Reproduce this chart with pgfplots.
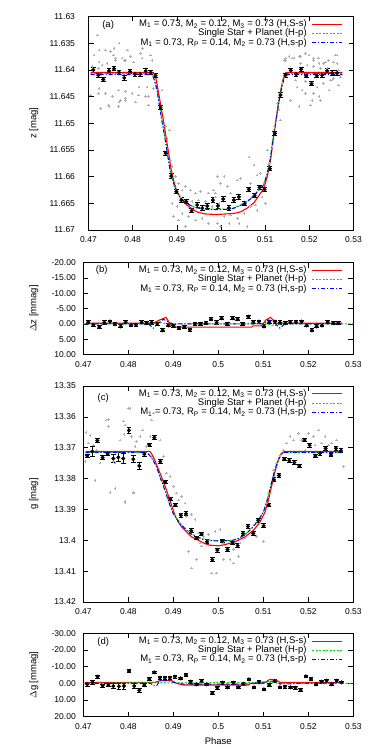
\documentclass[border=0pt]{standalone}
\usepackage{pgfplots}
\pgfplotsset{compat=1.18}
\usepackage{fontspec}
\setmainfont{Liberation Sans}
\definecolor{ptgray}{RGB}{175,175,175}
\definecolor{mred}{RGB}{255,0,0}
\definecolor{mgreen}{RGB}{0,220,0}
\definecolor{mblue}{RGB}{0,0,255}
\pgfplotsset{
  every axis/.append style={
    scale only axis, anchor=north west,
    xmin=0.47, xmax=0.53,
    xtick={0.47,0.48,0.49,0.5,0.51,0.52,0.53},
    scaled x ticks=false, scaled y ticks=false,
    /pgf/number format/assume math mode=true,
    tick label style={font=\fontsize{8.5}{10}\selectfont},
    xticklabel style={/pgf/number format/fixed,/pgf/number format/precision=2,yshift=-3.5pt},
    label style={font=\fontsize{9.5}{11}\selectfont},
    major tick length=5pt,
    tick style={black,line width=0.5pt},
    axis line style={line width=0.7pt},
    y dir=reverse,
    legend cell align=right,
    legend plot pos=right,
    legend style={at={(1,1)},anchor=north east,xshift=-10.5pt,yshift=-3pt,draw=none,fill=none,inner sep=0pt,
      font=\fontsize{9.5}{11}\selectfont,column sep=5pt,row sep=0pt,
      nodes={inner sep=0pt,text height=6.8pt,text depth=2.5pt}},
    legend image code/.code={\draw[#1] (0pt,0pt) -- (30pt,0pt);},
  },
  graypts/.style={only marks,mark=+,mark size=1.3pt,color=ptgray,mark options={line width=0.6pt}},
  binpts/.style={only marks,mark=*,mark size=1.8pt,color=black,
     error bars/y dir=both,error bars/y explicit,error bars/error bar style={line width=1pt,black},
     error bars/error mark options={rotate=90,mark size=2.4pt,line width=1pt,black}},
  redl/.style={no marks,color=mred,line width=1.1pt},
  greenl/.style={no marks,color=mgreen,line width=1pt,dash pattern=on 2pt off 1.5pt},
  bluel/.style={no marks,color=mblue,line width=1pt,dash pattern=on 4pt off 2pt on 1pt off 2pt},
}
\newcommand{\LA}{M\textsubscript{1} = 0.73, M\textsubscript{2} = 0.12, M\textsubscript{3} = 0.73 (H,S-s)}
\newcommand{\LB}{Single Star + Planet (H-p)}
\newcommand{\LC}{M\textsubscript{1} = 0.73, R\textsubscript{P} = 0.14, M\textsubscript{2} = 0.73 (H,s-p)}
\begin{document}
\begin{tikzpicture}[x=1pt,y=1pt]
\useasboundingbox (0,0) rectangle (377,-751);
% ---------------- panel (a)
\begin{axis}[at={(88.5pt,-16.5pt)},width=265pt,height=213.5pt,
  ymin=11.63,ymax=11.67,ytick={11.63,11.635,11.64,11.645,11.65,11.655,11.66,11.665,11.67},
  yticklabel style={/pgf/number format/fixed,/pgf/number format/precision=3,xshift=-10pt},
  ylabel={z [mag]},ylabel style={at={(axis description cs:-0.206,0.5)},anchor=center}]
\addplot[forget plot,graypts] table {
0.47494 11.6366
0.47569 11.6372
0.47607 11.6382
0.47758 11.6378
0.47833 11.6382
0.47946 11.6375
0.48022 11.6385
0.48172 11.6369
0.48210 11.6378
0.48399 11.6372
0.48436 11.6382
0.47305 11.6391
0.47418 11.6388
0.47079 11.6394
0.47230 11.6397
0.47042 11.6447
0.47230 11.6444
0.47381 11.6444
0.47682 11.6438
0.47833 11.6441
0.47984 11.6444
0.48135 11.6447
0.47833 11.6457
0.47720 11.6457
0.48059 11.6460
0.48361 11.6450
0.47456 11.6466
0.47268 11.6472
0.47682 11.6469
0.48361 11.6466
0.48323 11.6432
0.48474 11.6435
0.48663 11.6438
0.48700 11.6488
0.48738 11.6506
0.48776 11.6531
0.48829 11.6513
0.48851 11.6569
0.48889 11.6581
0.48964 11.6600
0.49040 11.6613
0.49115 11.6625
0.49077 11.6638
0.49191 11.6619
0.49304 11.6625
0.49417 11.6631
0.49530 11.6628
0.49719 11.6631
0.49832 11.6625
0.49870 11.6638
0.49002 11.6656
0.49115 11.6669
0.49266 11.6675
0.49417 11.6681
0.49568 11.6678
0.49719 11.6688
0.49040 11.6681
0.49191 11.6694
0.48889 11.6650
0.48927 11.6675
0.49492 11.6644
0.49643 11.6647
0.49794 11.6656
0.49341 11.6647
0.49914 11.6600
0.50065 11.6600
0.49990 11.6613
0.50141 11.6619
0.49877 11.6631
0.49952 11.6650
0.50216 11.6631
0.50367 11.6606
0.50442 11.6603
0.50631 11.6563
0.50744 11.6578
0.50819 11.6597
0.50895 11.6594
0.50668 11.6613
0.50932 11.6638
0.51008 11.6650
0.50782 11.6653
0.50668 11.6656
0.50518 11.6669
0.50367 11.6678
0.50216 11.6672
0.50065 11.6675
0.49990 11.6694
0.50178 11.6688
0.50405 11.6688
0.50593 11.6694
0.50819 11.6663
0.49914 11.6688
0.51046 11.6550
0.51083 11.6575
0.51159 11.6544
0.51272 11.6463
0.51309 11.6475
0.51347 11.6494
0.51196 11.6506
0.51385 11.6425
0.51422 11.6382
0.51460 11.6378
0.51536 11.6375
0.51649 11.6378
0.51799 11.6375
0.51988 11.6372
0.52101 11.6382
0.52214 11.6378
0.52327 11.6388
0.52440 11.6382
0.52553 11.6385
0.52629 11.6372
0.52667 11.6400
0.52704 11.6413
0.51799 11.6388
0.51950 11.6391
0.52101 11.6394
0.52252 11.6397
0.52403 11.6397
0.51573 11.6457
0.51724 11.6432
0.51837 11.6438
0.52026 11.6466
0.52101 11.6444
0.52177 11.6432
0.52252 11.6457
0.52327 11.6425
0.52478 11.6419
0.52553 11.6416
0.51686 11.6419
0.51913 11.6422
0.47200 11.6335
0.47237 11.6363
0.47124 11.6372
0.47388 11.6363
0.47577 11.6360
0.47690 11.6350
0.47878 11.6363
0.48218 11.6360
0.47803 11.6382
0.47614 11.6378
0.47237 11.6385
0.47049 11.6447
0.47237 11.6435
0.47539 11.6450
0.47841 11.6453
0.47464 11.6469
0.48142 11.6432
0.48293 11.6450
0.47690 11.6460
0.51460 11.6382
0.51611 11.6378
0.51762 11.6375
0.51913 11.6369
0.52101 11.6378
0.52215 11.6388
0.52365 11.6385
0.52591 11.6372
0.52629 11.6388
0.52516 11.6419
0.52441 11.6438
0.52215 11.6450
0.52064 11.6457
0.51913 11.6444
0.51762 11.6469
0.52667 11.6428
};
\addplot[forget plot,binpts] table[x index=0,y index=1,y error index=2] {
0.47109 11.6400 0.0004
0.47222 11.6410 0.0004
0.47335 11.6418 0.0004
0.47464 11.6402 0.0004
0.47577 11.6398 0.0004
0.47690 11.6405 0.0004
0.47810 11.6415 0.0004
0.47939 11.6403 0.0004
0.48052 11.6408 0.0004
0.48172 11.6408 0.0004
0.48294 11.6402 0.0004
0.48407 11.6405 0.0004
0.48520 11.6411 0.0004
0.48633 11.6471 0.0004
0.48747 11.6556 0.0004
0.48873 11.6599 0.0004
0.48990 11.6628 0.0004
0.49100 11.6644 0.0004
0.49213 11.6647 0.0004
0.49335 11.6664 0.0004
0.49462 11.6653 0.0004
0.49575 11.6659 0.0004
0.49688 11.6655 0.0004
0.49817 11.6644 0.0004
0.49930 11.6655 0.0004
0.50050 11.6642 0.0004
0.50179 11.6659 0.0004
0.50292 11.6644 0.0004
0.50405 11.6638 0.0004
0.50534 11.6651 0.0004
0.50631 11.6624 0.0004
0.50760 11.6636 0.0004
0.50873 11.6620 0.0004
0.50986 11.6624 0.0004
0.51106 11.6585 0.0004
0.51219 11.6519 0.0004
0.51347 11.6447 0.0004
0.51460 11.6410 0.0004
0.51580 11.6401 0.0004
0.51700 11.6408 0.0004
0.51815 11.6399 0.0004
0.51930 11.6411 0.0004
0.52050 11.6426 0.0004
0.52170 11.6411 0.0004
0.52290 11.6410 0.0004
0.52403 11.6402 0.0004
0.52516 11.6406 0.0004
0.52629 11.6406 0.0004
};
\addplot[redl] table {
0.4705 11.6405
0.4847 11.6405
0.48527 11.6416
0.48588 11.6444
0.48648 11.6472
0.48701 11.6497
0.48754 11.6525
0.48814 11.6556
0.48874 11.6588
0.48935 11.6610
0.49002 11.6628
0.49115 11.6644
0.49266 11.6656
0.49455 11.6666
0.49643 11.6670
0.49907 11.6671
0.50292 11.6669
0.50443 11.6666
0.50594 11.6659
0.50745 11.6649
0.50896 11.6631
0.50971 11.6622
0.51047 11.6600
0.51122 11.6569
0.51183 11.6531
0.51236 11.6500
0.51289 11.6469
0.51349 11.6441
0.51410 11.6416
0.51470 11.6405
0.5275 11.6405
};
\addlegendentry{\LA}
\addplot[greenl] table {
0.4705 11.6407
0.48436 11.6407
0.48474 11.6413
0.48550 11.6435
0.48602 11.6463
0.48663 11.6494
0.48723 11.6522
0.48783 11.6553
0.48844 11.6585
0.48904 11.6606
0.48980 11.6625
0.49077 11.6638
0.49228 11.6650
0.49417 11.6658
0.49643 11.6661
0.49907 11.6661
0.50216 11.6661
0.50367 11.6656
0.50518 11.6650
0.50668 11.6641
0.50819 11.6628
0.50955 11.6616
0.51046 11.6594
0.51121 11.6563
0.51181 11.6526
0.51242 11.6494
0.51302 11.6463
0.51362 11.6435
0.51422 11.6416
0.51483 11.6407
0.5275 11.6407
};
\addlegendentry{\LB}
\addplot[bluel] table {
0.4705 11.6409
0.48420 11.6409
0.48474 11.6415
0.48550 11.6437
0.48602 11.6465
0.48663 11.6496
0.48723 11.6524
0.48783 11.6555
0.48844 11.6587
0.48904 11.6607
0.48980 11.6626
0.49077 11.6639
0.49228 11.6651
0.49417 11.6658
0.49643 11.6661
0.49907 11.6662
0.50216 11.6661
0.50367 11.6657
0.50518 11.6651
0.50668 11.6642
0.50819 11.6629
0.50955 11.6617
0.51046 11.6596
0.51121 11.6565
0.51181 11.6528
0.51242 11.6496
0.51302 11.6465
0.51362 11.6437
0.51422 11.6418
0.51483 11.6409
0.5275 11.6409
};
\addlegendentry{\LC}
\node[font=\fontsize{9.5}{11}\selectfont] at (axis description cs:0.074,0.96) {(a)};
\end{axis}
% ---------------- panel (b)
\begin{axis}[at={(83.3pt,-262.5pt)},width=270pt,height=92pt,
  ymin=-20,ymax=10,ytick={-20,-15,-10,-5,0,5,10},
  yticklabel style={/pgf/number format/fixed,/pgf/number format/fixed zerofill,/pgf/number format/precision=2,xshift=-4pt},
  ylabel={$\Delta$z [mmag]},ylabel style={at={(axis description cs:-0.183,0.5)},anchor=center}]
\addplot[forget plot,binpts] table[x index=0,y index=1,y error index=2] {
0.47111 -0.53 0.5
0.47222 0.32 0.5
0.47356 1.06 0.5
0.47467 -0.43 0.5
0.47593 -0.74 0.5
0.47704 0.00 0.5
0.47830 0.85 0.5
0.47941 -0.53 0.5
0.48059 0.43 0.5
0.48170 0.32 0.5
0.48296 -0.53 0.5
0.48407 -0.21 0.5
0.48519 -0.43 0.5
0.48644 0.00 0.5
0.48763 2.13 0.5
0.48889 0.53 0.5
0.49000 0.64 0.5
0.49126 1.38 0.5
0.49244 1.06 0.5
0.49370 1.91 0.5
0.49481 0.00 0.5
0.49607 0.00 0.5
0.49726 -0.21 0.5
0.49837 -1.49 0.5
0.49963 -0.43 0.5
0.50074 -1.81 0.5
0.50200 0.11 0.5
0.50319 -1.81 0.5
0.50430 -1.49 0.5
0.50541 0.11 0.5
0.50667 -2.34 0.5
0.50778 -0.53 0.5
0.50904 -0.74 0.5
0.51015 0.85 0.5
0.51133 -0.53 0.5
0.51259 -0.74 0.5
0.51370 -0.43 0.5
0.51489 -0.21 0.5
0.51600 -0.53 0.5
0.51726 -0.53 0.5
0.51852 -0.74 0.5
0.51963 0.53 0.5
0.52081 2.13 0.5
0.52185 0.85 0.5
0.52304 0.53 0.5
0.52430 -0.53 0.5
0.52556 -0.21 0.5
0.52667 -0.21 0.5
};
\addplot[redl] table {
0.4705 -0.2
0.4855 -0.2
0.48704 -1.3
0.48837 -2.1
0.48941 0.3
0.49074 1.06
0.50741 1.06
0.50778 0.64
0.50963 0.64
0.51059 -1.3
0.51163 -2.1
0.51281 -0.2
0.5275 -0.2
};
\addlegendentry{\LA}
\addplot[greenl] table {
0.47 0
0.4855 0
0.4868 -0.6
0.4885 0
0.5105 0
0.5125 0.6
0.5140 0
0.53 0
};
\addlegendentry{\LB}
\addplot[bluel] table {
0.4705 0
0.48444 0
0.48556 1.4
0.48667 -0.2
0.48778 -1.5
0.48911 -0.4
0.4900 0
0.5100 0
0.51111 -1.3
0.51222 -0.7
0.51370 1.4
0.51481 0
0.5275 0
};
\addlegendentry{\LC}
\node[font=\fontsize{9.5}{11}\selectfont] at (axis description cs:0.068,0.918) {(b)};
\end{axis}
% ---------------- panel (c)
\begin{axis}[at={(83.3pt,-386pt)},width=270pt,height=216pt,
  ymin=13.35,ymax=13.42,ytick={13.35,13.36,13.37,13.38,13.39,13.4,13.41,13.42},
  yticklabel style={/pgf/number format/fixed,/pgf/number format/precision=2,xshift=-4pt},
  ylabel={g [mag]},ylabel style={at={(axis description cs:-0.183,0.5)},anchor=center}]
\addplot[forget plot,graypts] table {
0.47037 13.3745
0.47111 13.3685
0.47222 13.3691
0.47296 13.3707
0.47370 13.3750
0.47504 13.3610
0.47556 13.3631
0.47667 13.3745
0.47704 13.3750
0.47815 13.3675
0.47904 13.3658
0.47926 13.3626
0.48000 13.3572
0.48074 13.3664
0.48111 13.3847
0.48148 13.3696
0.48185 13.3680
0.48259 13.3664
0.48319 13.3642
0.48407 13.3696
0.48481 13.3664
0.48519 13.3610
0.48556 13.3588
0.47593 13.3845
0.47926 13.3877
0.48704 13.3675
0.48778 13.3728
0.48852 13.3782
0.48926 13.3793
0.49000 13.3825
0.49074 13.3847
0.49111 13.3869
0.49185 13.3858
0.49259 13.3879
0.49148 13.3917
0.49296 13.3922
0.49407 13.3917
0.49481 13.3933
0.49556 13.3976
0.49593 13.4009
0.49667 13.3987
0.49778 13.3982
0.49926 13.3971
0.50037 13.3966
0.50111 13.4009
0.50185 13.4030
0.50259 13.4063
0.50333 13.4073
0.50444 13.4052
0.50481 13.4009
0.50593 13.3993
0.50704 13.3966
0.50852 13.3987
0.50926 13.3944
0.51000 13.4003
0.51074 13.3879
0.51111 13.3847
0.51222 13.3772
0.51296 13.3750
0.51370 13.3728
0.51444 13.3707
0.51519 13.3685
0.51593 13.3664
0.51667 13.3675
0.51778 13.3653
0.51852 13.3675
0.51926 13.3707
0.52000 13.3653
0.52111 13.3664
0.52148 13.3691
0.52222 13.3642
0.52296 13.3685
0.52370 13.3664
0.52444 13.3691
0.52519 13.3685
0.52630 13.3675
0.52704 13.3707
0.52778 13.3761
0.49407 13.4090
0.49852 13.4106
0.49963 13.4106
0.49519 13.4063
0.49630 13.4019
0.50111 13.4063
0.49333 13.4036
0.50333 13.4030
0.47259 13.3806
0.47593 13.3844
0.47704 13.3833
0.47926 13.3874
0.48111 13.3844
0.47059 13.3651
0.47148 13.3661
0.47556 13.3608
0.48037 13.3573
0.47889 13.3613
};
\addplot[forget plot,binpts] table[x index=0,y index=1,y error index=2] {
0.47089 13.3726 0.0005
0.47200 13.3712 0.0015
0.47311 13.3677 0.0006
0.47430 13.3732 0.0007
0.47541 13.3720 0.0006
0.47667 13.3735 0.0012
0.47778 13.3731 0.0015
0.47889 13.3735 0.0015
0.48015 13.3644 0.0009
0.48111 13.3737 0.0012
0.48244 13.3759 0.0012
0.48356 13.3721 0.0007
0.48467 13.3691 0.0006
0.48578 13.3667 0.0006
0.48711 13.3745 0.0006
0.48822 13.3811 0.0006
0.48933 13.3866 0.0006
0.49044 13.3886 0.0006
0.49170 13.3919 0.0006
0.49281 13.3914 0.0006
0.49400 13.3969 0.0006
0.49519 13.3993 0.0006
0.49630 13.3980 0.0006
0.49748 13.4005 0.0006
0.49867 13.4063 0.0006
0.49978 13.4032 0.0006
0.50089 13.4002 0.0006
0.50207 13.4030 0.0006
0.50319 13.4009 0.0006
0.50430 13.4017 0.0006
0.50548 13.3978 0.0006
0.50659 13.3955 0.0006
0.50778 13.3978 0.0006
0.50889 13.3935 0.0006
0.51007 13.3953 0.0006
0.51119 13.3886 0.0006
0.51237 13.3804 0.0006
0.51348 13.3790 0.0006
0.51467 13.3737 0.0006
0.51578 13.3742 0.0006
0.51689 13.3748 0.0006
0.51800 13.3759 0.0006
0.51919 13.3675 0.0006
0.52030 13.3692 0.0006
0.52156 13.3727 0.0006
0.52259 13.3718 0.0006
0.52385 13.3702 0.0006
0.52504 13.3724 0.0006
0.52615 13.3702 0.0006
0.52726 13.3710 0.0006
};
\addplot[redl] table {
0.4705 13.3712
0.48481 13.3712
0.48519 13.3720
0.48593 13.3742
0.48667 13.3769
0.48741 13.3796
0.48815 13.3823
0.48889 13.3855
0.48963 13.3887
0.49037 13.3919
0.49111 13.3941
0.49185 13.3957
0.49296 13.3973
0.49407 13.3989
0.49556 13.4000
0.49704 13.4011
0.49815 13.4016
0.50000 13.4018
0.50149 13.4014
0.50371 13.4005
0.50594 13.3989
0.50779 13.3968
0.50927 13.3941
0.51038 13.3909
0.51112 13.3871
0.51187 13.3823
0.51246 13.3785
0.51320 13.3747
0.51394 13.3720
0.51468 13.3712
0.5275 13.3712
};
\addlegendentry{\LA}
\addplot[greenl] table {
0.4705 13.3716
0.48420 13.3716
0.48481 13.3724
0.48556 13.3740
0.48630 13.3761
0.48704 13.3794
0.48778 13.3821
0.48852 13.3853
0.48926 13.3885
0.49000 13.3912
0.49074 13.3928
0.49148 13.3944
0.49259 13.3960
0.49370 13.3976
0.49519 13.3988
0.49667 13.3996
0.49852 13.4000
0.50000 13.4001
0.50298 13.4000
0.50446 13.3994
0.50594 13.3981
0.50742 13.3961
0.50890 13.3934
0.51001 13.3908
0.51076 13.3875
0.51150 13.3832
0.51224 13.3789
0.51298 13.3752
0.51372 13.3726
0.51446 13.3716
0.5275 13.3716
};
\addlegendentry{\LB}
\addplot[bluel] table {
0.4705 13.3715
0.48407 13.3715
0.48481 13.3726
0.48556 13.3742
0.48630 13.3763
0.48704 13.3796
0.48778 13.3823
0.48852 13.3855
0.48926 13.3887
0.49000 13.3914
0.49074 13.3930
0.49148 13.3946
0.49259 13.3962
0.49370 13.3978
0.49519 13.3989
0.49667 13.3997
0.49852 13.4001
0.50000 13.4002
0.50298 13.4001
0.50446 13.3995
0.50594 13.3982
0.50742 13.3962
0.50890 13.3935
0.51001 13.3909
0.51076 13.3876
0.51150 13.3833
0.51224 13.3790
0.51298 13.3753
0.51372 13.3726
0.51446 13.3715
0.5275 13.3715
};
\addlegendentry{\LC}
\node[font=\fontsize{9.5}{11}\selectfont] at (axis description cs:0.074,0.946) {(c)};
\end{axis}
% ---------------- panel (d)
\begin{axis}[at={(83.3pt,-633.3pt)},width=270pt,height=83.4pt,
  ymin=-30,ymax=20,ytick={-30,-20,-10,0,10,20},
  yticklabel style={/pgf/number format/fixed,/pgf/number format/fixed zerofill,/pgf/number format/precision=2,xshift=-4pt},
  ylabel={$\Delta$g [mmag]},ylabel style={at={(axis description cs:-0.183,0.5)},anchor=center},
  xlabel={Phase},xlabel style={at={(axis description cs:0.5,-0.288)},anchor=center}]
\addplot[forget plot,binpts] table[x index=0,y index=1,y error index=2] {
0.47089 0.6 1.0
0.47207 -0.6 1.2
0.47319 -4.0 0.9
0.47430 1.4 1.0
0.47556 1.0 1.0
0.47667 1.6 1.6
0.47793 1.8 1.8
0.47904 1.6 1.8
0.48015 -7.4 1.0
0.48133 1.6 1.4
0.48244 4.2 1.2
0.48356 1.0 1.0
0.48467 -2.6 0.8
0.48578 -6.6 0.8
0.48704 -3.4 0.8
0.48815 -3.4 0.8
0.48926 -3.4 0.8
0.49037 -4.0 0.8
0.49163 -3.0 0.8
0.49281 -5.0 0.8
0.49385 -1.0 0.8
0.49519 0.6 0.8
0.49630 -1.4 0.8
0.49741 0.6 0.8
0.49867 5.8 0.8
0.49978 2.6 0.8
0.50096 -0.4 0.8
0.50207 2.4 0.8
0.50333 -0.4 0.8
0.50444 2.4 0.8
0.50556 0.2 0.8
0.50681 -2.4 0.8
0.50793 2.4 0.8
0.50904 -0.8 0.8
0.51015 3.6 0.8
0.51133 1.0 0.8
0.51252 -1.4 0.8
0.51370 2.4 0.8
0.51481 2.0 0.8
0.51607 2.4 0.8
0.51711 2.6 0.8
0.51830 4.0 0.8
0.51948 -4.2 0.8
0.52059 -2.6 0.8
0.52170 0.6 0.8
0.52296 -1.0 0.8
0.52407 -1.6 0.8
0.52519 0.6 0.8
0.52630 -1.6 0.8
0.52741 -0.6 0.8
};
\addplot[redl] table {
0.4705 -0.6
0.48593 -0.6
0.48704 -1.6
0.48963 -1.6
0.49074 0.0
0.49222 1.0
0.50667 1.0
0.50704 0.2
0.51000 0.2
0.51148 -2.4
0.51259 -2.4
0.51370 -0.6
0.5275 -0.6
};
\addlegendentry{\LA}
\addplot[greenl] table {
0.47 0
0.4865 -0.6
0.4890 -0.2
0.5120 -0.6
0.5135 0
0.53 0
};
\addlegendentry{\LB}
\addplot[bluel] table {
0.4705 0
0.48500 0
0.48556 1.4
0.48630 1.4
0.48704 -1.6
0.48889 -1.6
0.49037 -0.4
0.49222 0.4
0.50593 0.4
0.51111 -1.0
0.51259 -1.6
0.51370 0.4
0.5275 -0.4
};
\addlegendentry{\LC}
\node[font=\fontsize{9.5}{11}\selectfont] at (axis description cs:0.074,0.896) {(d)};
\end{axis}
\end{tikzpicture}
\end{document}
